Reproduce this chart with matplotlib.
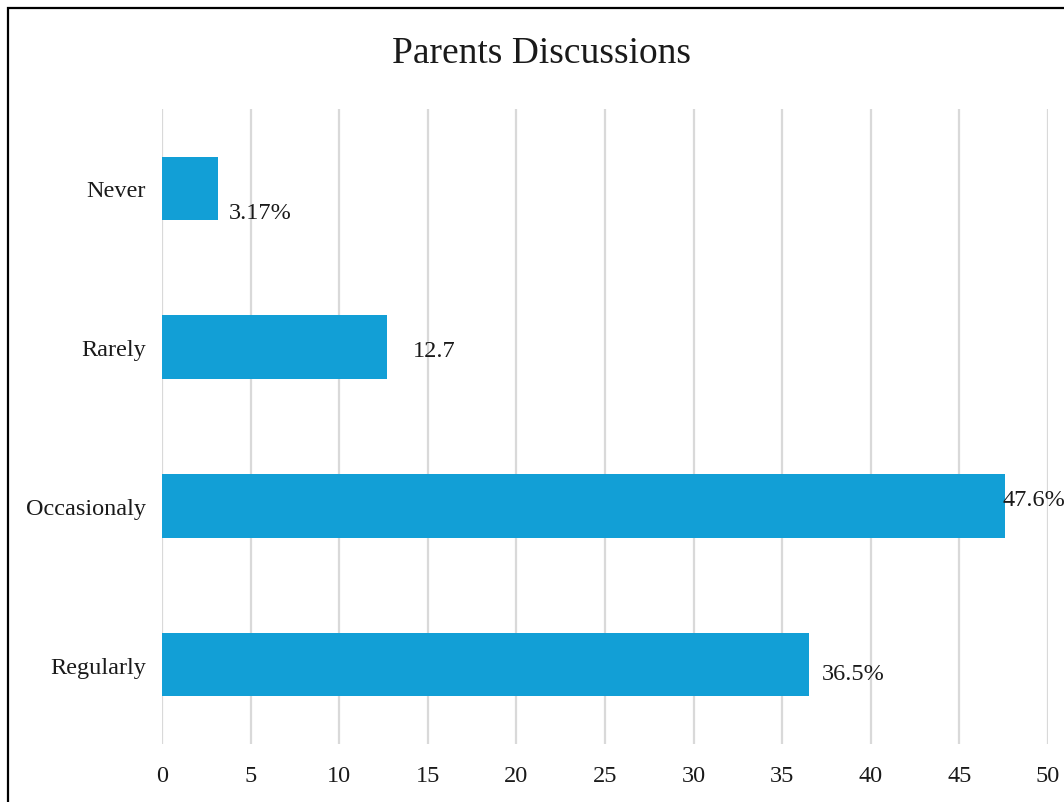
import matplotlib
matplotlib.use("Agg")
import matplotlib.pyplot as plt
from matplotlib.patches import Rectangle

# ─── Data ─────────────────────────────────────────────────────────────────────

categories = ["Regularly", "Occasionaly", "Rarely", "Never"]
values = [36.5, 47.6, 12.7, 3.17]
labels = ["36.5%", "47.6%", "12.7", "3.17%"]
xticks = [0, 5, 10, 15, 20, 25, 30, 35, 40, 45, 50]

# label offsets in pixels (x from bar end, y from bar centre)
label_offsets = [(13, -9), (-3, 6), (26, -3), (11, -24)]

# ─── Chart ────────────────────────────────────────────────────────────────────

plt.rcParams["font.family"] = ["Liberation Serif", "DejaVu Serif"]

W, H = 1064, 803
fig = plt.figure(figsize=(W / 100, H / 100), dpi=100)
ax = fig.add_axes([162 / W, 1 - 745 / H, (1048 - 162) / W, (745 - 110) / H])

ypos = list(range(len(categories)))
ax.barh(ypos, values, height=0.4, color="#129FD6", zorder=2)

for y, v, lab, (dx, dy) in zip(ypos, values, labels, label_offsets):
    ax.annotate(lab, (v, y), xytext=(dx, dy), textcoords="offset pixels",
                ha="left", va="center", fontsize=17.5, color="#1a1a1a",
                annotation_clip=False)

ax.set_xlim(0, 50)
ax.set_ylim(-0.5, len(categories) - 0.5)
ax.set_xticks(xticks)
ax.set_yticks(ypos)
ax.set_yticklabels(categories)
ax.tick_params(axis="both", length=0, labelsize=17.5, colors="#1a1a1a")
ax.tick_params(axis="x", pad=15)
ax.tick_params(axis="y", pad=11.5)
for s in ax.spines.values():
    s.set_visible(False)
ax.grid(axis="x", color="#D9D9D9", linewidth=1.6, zorder=0)
ax.set_axisbelow(True)

fig.text(541 / W, 1 - 54 / H, "Parents Discussions", ha="center", va="center",
         fontsize=27, color="#1a1a1a")

# outer frame
fig.patches.append(Rectangle((7.5 / W, -0.1), 1.2, 1 - 8.5 / H + 0.1,
                             transform=fig.transFigure, fill=False,
                             edgecolor="black", linewidth=1.6))

fig.savefig("out.png", dpi=100)
